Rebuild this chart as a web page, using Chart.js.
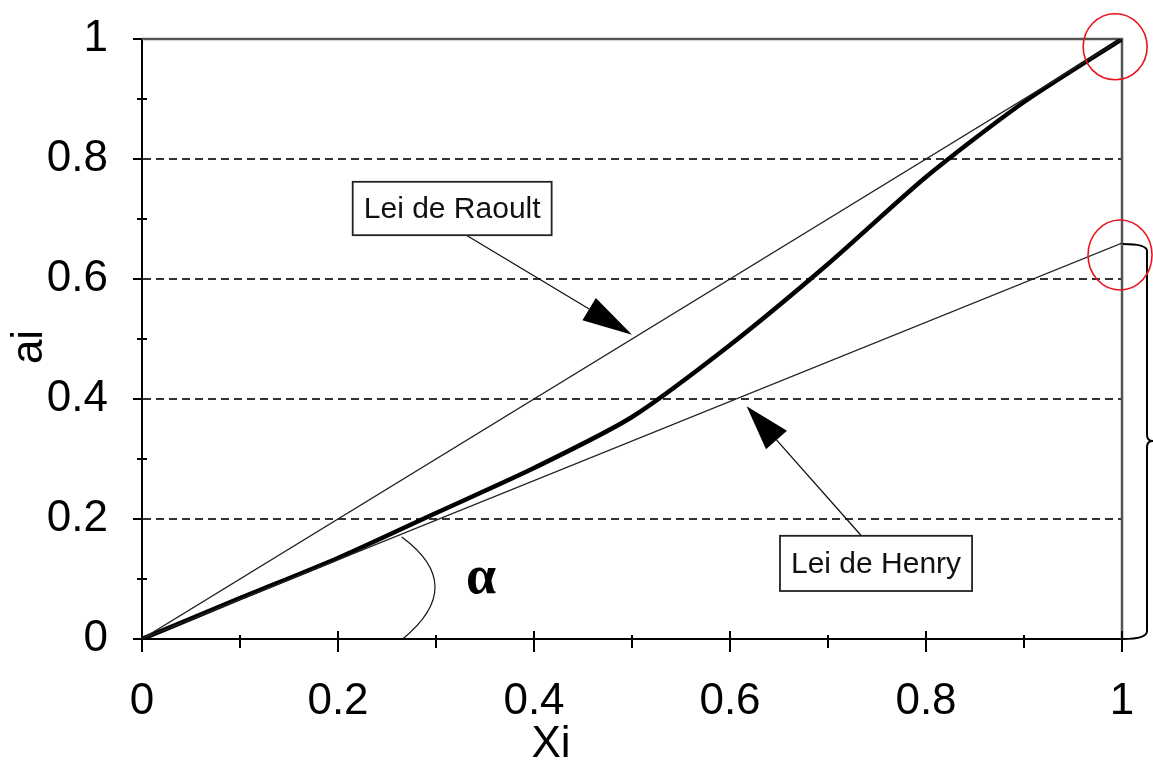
<!DOCTYPE html>
<html>
<head>
<meta charset="utf-8">
<script src="https://cdn.jsdelivr.net/npm/chart.js@4"></script>
<style>
  html, body { margin: 0; padding: 0; background: #fff; }
  #wrap { width: 1153px; height: 779px; }
</style>
</head>
<body>
<div id="wrap"><canvas id="myChart" width="1153" height="779"></canvas></div>
<script>
// fração molar Xi e atividade ai
const curveX = [0, 0.1, 0.2, 0.3, 0.4, 0.5, 0.6, 0.7, 0.8, 0.9, 1.0];
const curveA = [0, 0.068, 0.135, 0.21, 0.285, 0.37, 0.49, 0.625, 0.77, 0.895, 1.0];
const raoultX = [0, 1];
const raoultA = [0, 1];
const henryX = [0, 1];
const henryA = [0, 0.66];
const tickValues = [0, 0.2, 0.4, 0.6, 0.8, 1];

const FONT = "'Liberation Sans', Arial, sans-serif";

function toPoints(xs, ys) {
    return xs.map((x, i) => ({ x: x, y: ys[i] }));
}

function fmt(v) {
    return String(+v.toFixed(1));
}

function noPad(scale) {
    scale.paddingTop = 0;
    scale.paddingBottom = 0;
    scale.paddingLeft = 0;
    scale.paddingRight = 0;
}

// desenha setas, caixas, alfa, chave e círculos
const extras = {
    id: 'extras',
    beforeDatasetsDraw(chart) {
        const ctx = chart.ctx;
        const xs = chart.scales.x, ys = chart.scales.y;
        const x1 = xs.getPixelForValue(1), y1 = ys.getPixelForValue(1);
        const x0 = xs.getPixelForValue(0), y0 = ys.getPixelForValue(0);
        ctx.save();
        ctx.strokeStyle = '#555';
        ctx.lineWidth = 2.5;
        ctx.beginPath();
        ctx.moveTo(x0, y1);
        ctx.lineTo(x1, y1);
        ctx.lineTo(x1, y0 + 1);
        ctx.stroke();

        // marcas dos eixos
        ctx.strokeStyle = '#000';
        ctx.lineWidth = 2;
        for (let i = 0; i <= 10; i++) {
            const v = i / 10;
            const major = i % 2 === 0;
            const px = xs.getPixelForValue(v);
            const py = ys.getPixelForValue(v);
            ctx.beginPath();
            if (major) {
                ctx.moveTo(px, y0 - 8); ctx.lineTo(px, y0 + 13);
                ctx.moveTo(x0 - 9, py); ctx.lineTo(x0, py);
            } else {
                ctx.moveTo(px, y0 - 4); ctx.lineTo(px, y0 + 9);
                ctx.moveTo(x0 - 5, py); ctx.lineTo(x0 + 5, py);
            }
            ctx.stroke();
        }
        ctx.restore();
    },
    afterDatasetsDraw(chart) {
        const ctx = chart.ctx;
        const xs = chart.scales.x, ys = chart.scales.y;
        const P = (x, y) => [xs.getPixelForValue(x), ys.getPixelForValue(y)];

        function arrow(from, to, len, half) {
            const dx = to[0] - from[0], dy = to[1] - from[1];
            const d = Math.hypot(dx, dy);
            const ux = dx / d, uy = dy / d;
            const bx = to[0] - ux * len, by = to[1] - uy * len;
            ctx.strokeStyle = '#111';
            ctx.lineWidth = 1.3;
            ctx.beginPath();
            ctx.moveTo(from[0], from[1]);
            ctx.lineTo(bx, by);
            ctx.stroke();
            ctx.fillStyle = '#000';
            ctx.beginPath();
            ctx.moveTo(to[0], to[1]);
            ctx.lineTo(bx - uy * half, by + ux * half);
            ctx.lineTo(bx + uy * half, by - ux * half);
            ctx.closePath();
            ctx.fill();
        }

        function box(a, b, text) {
            const l = a[0], t = a[1], w = b[0] - a[0], h = b[1] - a[1];
            ctx.fillStyle = '#fff';
            ctx.fillRect(l, t, w, h);
            ctx.strokeStyle = '#222';
            ctx.lineWidth = 1.8;
            ctx.strokeRect(l, t, w, h);
            ctx.fillStyle = '#111';
            ctx.font = '30px ' + FONT;
            ctx.textAlign = 'center';
            ctx.textBaseline = 'middle';
            ctx.fillText(text, l + w / 2, t + h / 2 + 1);
        }

        ctx.save();
        arrow(P(0.331, 0.673), P(0.5, 0.507), 50, 13);
        box(P(0.215, 0.762), P(0.418, 0.673), 'Lei de Raoult');
        arrow(P(0.734, 0.172), P(0.617, 0.388), 45, 14);
        box(P(0.651, 0.172), P(0.847, 0.080), 'Lei de Henry');

        // ângulo alfa
        const s = P(0.265, 0.17), e = P(0.266, 0), m = P(0.299, 0.087);
        ctx.strokeStyle = '#111';
        ctx.lineWidth = 1.2;
        ctx.beginPath();
        ctx.moveTo(s[0], s[1]);
        ctx.quadraticCurveTo(2 * m[0] - (s[0] + e[0]) / 2, 2 * m[1] - (s[1] + e[1]) / 2, e[0], e[1]);
        ctx.stroke();
        const ap = P(0.346, 0.09);
        ctx.fillStyle = '#000';
        ctx.font = "bold 54px 'Liberation Serif', serif";
        ctx.textAlign = 'center';
        ctx.textBaseline = 'middle';
        ctx.fillText('\u03b1', ap[0], ap[1] - 6);

        // chave à direita
        const top = P(1, henryA[1]), bot = P(1, 0);
        const bx = top[0] + 25, mid = (top[1] + bot[1]) / 2;
        ctx.strokeStyle = '#000';
        ctx.lineWidth = 2;
        ctx.beginPath();
        ctx.moveTo(top[0] + 1, top[1] + 1);
        ctx.quadraticCurveTo(bx, top[1] + 1, bx, top[1] + 8);
        ctx.lineTo(bx, mid - 6);
        ctx.quadraticCurveTo(bx, mid, bx + 6, mid);
        ctx.quadraticCurveTo(bx, mid, bx, mid + 6);
        ctx.lineTo(bx, bot[1] - 8);
        ctx.quadraticCurveTo(bx, bot[1], top[0] + 1, bot[1]);
        ctx.stroke();

        // círculos vermelhos
        ctx.strokeStyle = '#e8141c';
        ctx.lineWidth = 1.6;
        const c1 = P(0.993, 0.987), c2 = P(0.998, 0.64);
        ctx.beginPath();
        ctx.ellipse(c1[0], c1[1], 32, 33, 0, 0, Math.PI * 2);
        ctx.stroke();
        ctx.beginPath();
        ctx.ellipse(c2[0], c2[1], 32, 35, 0, 0, Math.PI * 2);
        ctx.stroke();

        // títulos dos eixos
        ctx.fillStyle = '#000';
        ctx.font = '44px ' + FONT;
        ctx.textAlign = 'center';
        ctx.textBaseline = 'middle';
        ctx.fillText('Xi', 551, 745);
        ctx.translate(30, 347);
        ctx.rotate(-Math.PI / 2);
        ctx.fillText('ai', 0, 0);
        ctx.restore();
    }
};

const ctx = document.getElementById('myChart');

new Chart(ctx, {
    type: 'scatter',
    data: {
        datasets: [{
            label: 'Lei de Raoult',
            data: toPoints(raoultX, raoultA),
            showLine: true,
            borderColor: '#222',
            borderWidth: 1.3,
            pointRadius: 0
        }, {
            label: 'Lei de Henry',
            data: toPoints(henryX, henryA),
            showLine: true,
            borderColor: '#222',
            borderWidth: 1.3,
            pointRadius: 0
        }, {
            label: 'ai',
            data: toPoints(curveX, curveA),
            showLine: true,
            borderColor: '#000',
            borderWidth: 4.5,
            pointRadius: 0,
            tension: 0.25
        }]
    },
    options: {
        responsive: false,
        animation: false,
        events: [],
        layout: {
            padding: { left: 0, top: 39, right: 31, bottom: 0 }
        },
        plugins: {
            legend: { display: false },
            tooltip: { enabled: false }
        },
        scales: {
            x: {
                type: 'linear',
                min: 0,
                max: 1,
                afterFit: (scale) => { scale.height = 140; noPad(scale); },
                afterBuildTicks: (scale) => { scale.ticks = tickValues.map(v => ({ value: v })); },
                grid: { display: false, drawTicks: false },
                border: { display: true, color: '#000', width: 2 },
                ticks: {
                    padding: 36,
                    color: '#000',
                    font: { family: FONT, size: 44 },
                    callback: fmt
                }
            },
            y: {
                type: 'linear',
                min: 0,
                max: 1,
                afterFit: (scale) => { scale.width = 142; noPad(scale); },
                afterBuildTicks: (scale) => { scale.ticks = tickValues.map(v => ({ value: v })); },
                grid: {
                    drawTicks: false,
                    lineWidth: 2,
                    color: (c) => (c.tick && c.tick.value > 0.01 && c.tick.value < 0.99) ? '#333' : 'rgba(0,0,0,0)'
                },
                border: { display: true, color: '#000', width: 2, dash: [8, 5] },
                ticks: {
                    padding: 34,
                    color: '#000',
                    font: { family: FONT, size: 44 },
                    callback: fmt
                }
            }
        }
    },
    plugins: [extras]
});
</script>
</body>
</html>
